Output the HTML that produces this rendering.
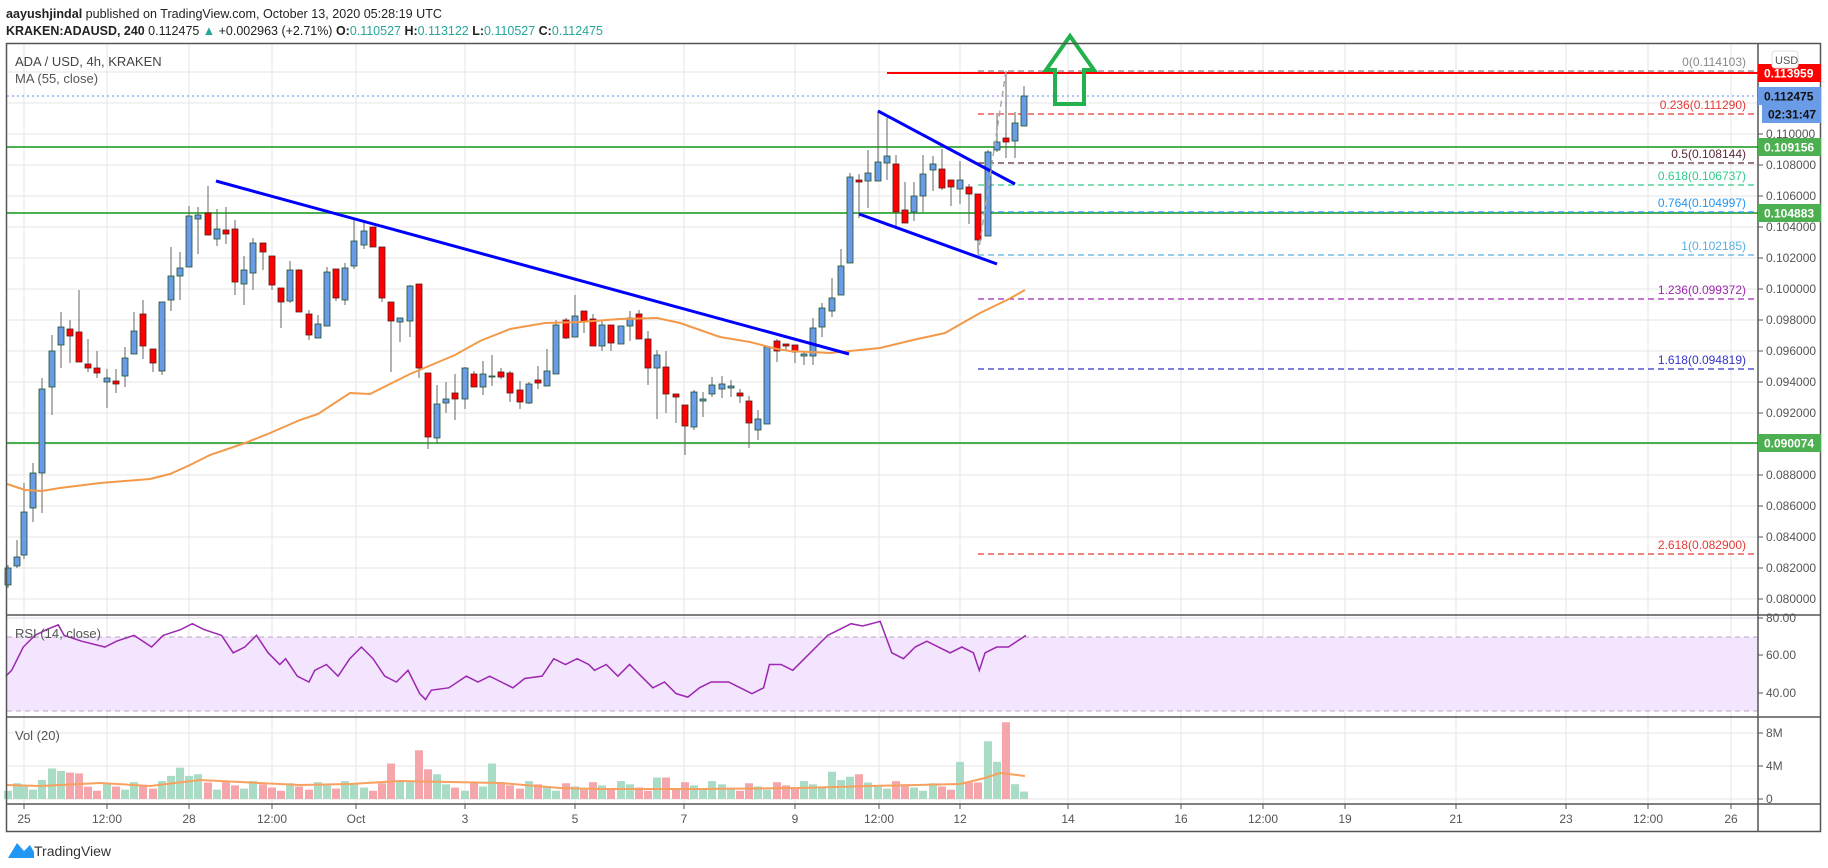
<!DOCTYPE html>
<html><head><meta charset="utf-8"><style>
html,body{margin:0;padding:0;background:#fff;}
svg{display:block;font-family:"Liberation Sans",sans-serif;}
</style></head><body>
<svg id="s" width="1828" height="868" viewBox="0 0 1828 868" xmlns="http://www.w3.org/2000/svg">
<rect width="1828" height="868" fill="#fff"/>
<g id="grid"></g>
<rect x="7" y="637" width="1751" height="74" fill="#f3e5fd"/>
<line x1="7" y1="637" x2="1758" y2="637" stroke="#b9a6c4" stroke-dasharray="5,4"/>
<line x1="7" y1="711" x2="1758" y2="711" stroke="#b9a6c4" stroke-dasharray="5,4"/>
<g id="hlines"></g>
<g id="cand"></g>
<g id="vol"></g>
<polyline fill="none" stroke="#f2994a" stroke-width="2" points="7,484 25,490 42,491 60,488 100,483 150,479 170,474 190,465 210,455 245,443 270,433 300,420 318,414 350,393 370,394 410,374 455,355 480,341 510,329 545,323 580,322 620,319 657,318 680,323 720,337 750,342 777,349 790,351 830,353 880,348 913,340 945,333 980,313 1007,300 1025,290"/>
<polyline fill="none" stroke="#f7a060" stroke-width="2" points="7,785 40,786 100,783 150,786 200,780 300,785 350,784 400,781 500,783 560,788 600,789 700,789 800,788 870,786 960,784 985,778 1000,773 1025,776"/>
<line x1="216" y1="181" x2="849" y2="354" stroke="#0000ff" stroke-width="3"/>
<line x1="878" y1="111" x2="1015" y2="184" stroke="#0000ff" stroke-width="3"/>
<line x1="859" y1="214" x2="997" y2="264" stroke="#0000ff" stroke-width="3"/>
<line x1="887" y1="73" x2="1758" y2="73" stroke="#ff0000" stroke-width="2"/>
<line x1="978" y1="255" x2="1006" y2="71" stroke="#aaa" stroke-width="1.5" stroke-dasharray="6,4"/>
<polygon points="1070,36 1094,70 1084,70 1084,104 1055,104 1055,70 1046,70" fill="none" stroke="#22b14c" stroke-width="4"/>
<g transform="scale(1.1658)"><polyline fill="none" stroke="#9c27b0" stroke-width="1.3" points="5,580 10,575 20,555 30,545 40,540 50,536 55,545 70,550 90,555 100,550 115,545 130,555 140,545 155,540 165,535 175,540 190,545 200,560 210,555 220,545 230,560 240,570 245,565 255,580 265,585 270,575 280,570 290,580 300,565 310,555 320,565 330,580 340,585 350,575 360,595 365,600 370,592 385,590 400,580 410,585 420,580 430,585 440,590 450,582 465,580 475,565 485,570 495,565 505,570 510,575 520,570 530,580 540,570 550,580 560,590 570,585 580,595 590,598 600,590 610,585 625,585 635,590 645,595 655,590 660,570 670,570 680,575 690,565 700,555 710,545 720,540 730,535 740,537 755,533 765,560 775,565 785,555 795,550 805,555 815,560 825,555 835,560 840,575 845,560 855,555 865,555 880,545"/></g>
<rect x="6.5" y="43.5" width="1814" height="788" fill="none" stroke="#555" stroke-width="1.5"/>
<line x1="1758" y1="43" x2="1758" y2="831" stroke="#555" stroke-width="1.5"/>
<line x1="7" y1="615" x2="1821" y2="615" stroke="#555" stroke-width="1.5"/>
<line x1="7" y1="717" x2="1821" y2="717" stroke="#555" stroke-width="1.5"/>
<line x1="7" y1="804" x2="1821" y2="804" stroke="#555" stroke-width="1.5"/>
<g id="axis" font-size="12" fill="#555"></g>
<text x="6" y="18" font-size="13" fill="#222" textLength="436" lengthAdjust="spacingAndGlyphs"><tspan font-weight="bold">aayushjindal</tspan> published on TradingView.com, October 13, 2020 05:28:19 UTC</text>
<text x="6" y="35" font-size="13" fill="#222" textLength="597" lengthAdjust="spacingAndGlyphs"><tspan font-weight="bold">KRAKEN:ADAUSD, 240</tspan> 0.112475 <tspan fill="#26a69a">▲</tspan> +0.002963 (+2.71%) <tspan font-weight="bold">O:</tspan><tspan fill="#26a69a">0.110527</tspan> <tspan font-weight="bold">H:</tspan><tspan fill="#26a69a">0.113122</tspan> <tspan font-weight="bold">L:</tspan><tspan fill="#26a69a">0.110527</tspan> <tspan font-weight="bold">C:</tspan><tspan fill="#26a69a">0.112475</tspan></text>
<text x="15" y="66" font-size="13" fill="#444">ADA / USD, 4h, KRAKEN</text>
<text x="15" y="83" font-size="13" fill="#555">MA (55, close)</text>
<text x="15" y="638" font-size="13" fill="#555">RSI (14, close)</text>
<text x="15" y="740" font-size="13" fill="#555">Vol (20)</text>
<path d="M8,858 L17,843 L24,851 L30,845 L34,852 L34,858 Z" fill="#2196f3"/>
<text x="34" y="856" font-size="14" fill="#333">TradingView</text>
</svg>
<script>
var NS="http://www.w3.org/2000/svg";
function el(p,t,a,txt){var e=document.createElementNS(NS,t);for(var k in a)e.setAttribute(k,a[k]);if(txt!=null)e.textContent=txt;document.getElementById(p).appendChild(e);return e;}
function Y(p){return 134+(0.110-p)*15500;}
var vx=[24,107,189,272,356,465,575,684,795,879,960,1068,1181,1263,1345,1456,1566,1648,1731];
var vl=["25","12:00","28","12:00","Oct","3","5","7","9","12:00","12","14","16","12:00","19","21","23","12:00","26"];
vx.forEach(function(x,i){
 el("grid","line",{x1:x,y1:44,x2:x,y2:804,stroke:"#e6e6e6"});
 el("axis","line",{x1:x,y1:804,x2:x,y2:809,stroke:"#555"});
 el("axis","text",{x:x,y:823,"text-anchor":"middle"},vl[i]);
});
for(var p=0.080;p<=0.1145;p+=0.002){var y=Y(p);
 el("grid","line",{x1:7,y1:y,x2:1758,y2:y,stroke:"#e6e6e6"});
 if(p<0.1105){el("axis","line",{x1:1758,y1:y,x2:1763,y2:y,stroke:"#555"});
 el("axis","text",{x:1766,y:y+4},p.toFixed(6));}}
[[655,"60.00"],[693,"40.00"],[618,"80.00"]].forEach(function(a){el("grid","line",{x1:7,y1:a[0],x2:1758,y2:a[0],stroke:"#e0d4e8"});el("axis","line",{x1:1758,y1:a[0],x2:1763,y2:a[0],stroke:"#555"});el("axis","text",{x:1766,y:a[0]+4},a[1]);});
[[733,"8M"],[766,"4M"],[799,"0"]].forEach(function(a){el("grid","line",{x1:7,y1:a[0],x2:1758,y2:a[0],stroke:"#e6e6e6"});el("axis","line",{x1:1758,y1:a[0],x2:1763,y2:a[0],stroke:"#555"});el("axis","text",{x:1766,y:a[0]+4},a[1]);});
el("hlines","line",{x1:7,y1:96,x2:1758,y2:96,stroke:"#5b8def","stroke-dasharray":"2,3"});
[147,213,443].forEach(function(y){el("hlines","line",{x1:7,y1:y,x2:1758,y2:y,stroke:"#4caf50","stroke-width":2});});
var fib=[[71,"0(0.114103)","#888"],[114,"0.236(0.111290)","#e53935"],[163,"0.5(0.108144)","#5a2a35"],[185,"0.618(0.106737)","#2ecc8a"],[212,"0.764(0.104997)","#2196f3"],[255,"1(0.102185)","#5aaee0"],[299,"1.236(0.099372)","#9c27b0"],[369,"1.618(0.094819)","#3333cc"],[554,"2.618(0.082900)","#e53935"]];
fib.forEach(function(f){el("hlines","line",{x1:978,y1:f[0],x2:1758,y2:f[0],stroke:f[2],"stroke-dasharray":"6,4","stroke-width":1.3});
 el("hlines","text",{x:1746,y:f[0]-5,"text-anchor":"end","font-size":"12",fill:f[2]},f[1]);});
var C=[[8,568,585,565,588,"b"],[17,557,566,540,568,"b"],[24,512,555,483,559,"b"],[33,473,508,463,522,"b"],[42,389,473,378,513,"b"],[52,351,387,335,415,"b"],[61,327,345,312,368,"b"],[70,329,336,320,363,"r"],[79,332,362,290,362,"r"],[88,364,368,339,372,"r"],[97,368,373,351,378,"r"],[107,378,382,369,408,"b"],[116,381,384,369,393,"r"],[125,358,376,347,387,"b"],[134,331,354,312,354,"b"],[143,314,346,300,359,"r"],[153,349,363,349,372,"r"],[162,302,371,302,375,"b"],[171,276,300,247,311,"b"],[180,268,276,252,300,"b"],[189,216,267,206,267,"b"],[198,215,219,207,254,"b"],[208,213,235,186,235,"r"],[217,229,239,209,246,"b"],[226,230,234,207,244,"r"],[235,229,282,220,295,"r"],[244,270,284,256,305,"b"],[253,243,273,238,290,"b"],[263,243,252,243,270,"r"],[272,256,285,256,290,"r"],[281,288,302,288,328,"r"],[290,270,301,261,303,"b"],[299,270,312,269,312,"r"],[309,314,335,310,340,"r"],[318,324,338,315,338,"b"],[327,272,326,267,326,"b"],[336,269,298,269,301,"r"],[345,268,300,263,305,"b"],[354,241,266,220,269,"b"],[364,231,245,220,249,"b"],[373,227,247,227,247,"r"],[382,247,298,247,302,"r"],[391,302,321,302,372,"r"],[400,318,322,318,342,"b"],[410,286,321,285,337,"b"],[419,284,368,284,378,"r"],[428,373,437,373,449,"r"],[437,404,438,385,444,"b"],[446,399,403,382,413,"b"],[455,393,399,374,420,"r"],[465,368,399,367,409,"b"],[474,374,387,371,387,"r"],[483,374,387,361,395,"b"],[492,376,377,355,386,"b"],[501,372,377,368,379,"r"],[510,373,393,371,402,"r"],[520,390,402,381,409,"r"],[529,384,403,382,404,"b"],[538,380,383,366,389,"r"],[547,371,386,349,386,"b"],[556,325,374,320,374,"b"],[566,320,338,318,339,"r"],[575,316,337,295,337,"b"],[584,311,321,311,333,"r"],[593,319,346,314,346,"r"],[602,325,346,320,351,"b"],[611,325,343,325,351,"r"],[621,326,344,326,344,"b"],[630,318,326,311,341,"b"],[639,314,339,310,339,"r"],[648,339,368,331,385,"r"],[657,355,368,350,419,"b"],[666,367,394,351,413,"r"],[676,394,397,394,423,"r"],[685,405,426,405,455,"r"],[694,392,427,390,430,"b"],[703,399,401,392,417,"b"],[712,385,394,377,397,"b"],[722,384,389,376,398,"b"],[731,386,388,380,397,"b"],[740,393,396,389,403,"r"],[749,401,423,396,448,"r"],[758,419,430,410,440,"b"],[767,347,424,347,424,"b"],[777,341,351,339,362,"r"],[786,344,346,344,350,"r"],[795,345,352,345,363,"r"],[804,354,356,352,365,"b"],[813,328,356,318,365,"b"],[822,308,327,303,337,"b"],[832,298,311,278,317,"b"],[841,266,295,249,295,"b"],[850,177,263,173,263,"b"],[859,180,182,174,218,"r"],[868,173,181,150,208,"b"],[878,162,181,111,181,"b"],[887,156,163,118,180,"b"],[896,164,212,155,227,"r"],[905,210,223,182,223,"r"],[914,196,212,182,221,"b"],[923,174,196,155,212,"b"],[933,164,170,156,191,"b"],[942,169,188,149,190,"r"],[951,180,187,180,206,"r"],[960,180,189,161,204,"b"],[969,187,194,184,224,"r"],[978,194,240,194,255,"r"],[988,152,236,150,236,"b"],[997,142,150,113,152,"b"],[1006,138,142,73,158,"r"],[1015,123,141,112,158,"b"],[1024,96,126,86,126,"b"]];
var VO={42:2.3,52:3.7,61:3.4,70:3.2,79:3.1,88:1.5,171:2.8,180:3.8,189:2.8,198:3.0,208:2.0,389:4.3,398:2.2,416:5.9,425:3.6,434:3.0,491:4.3,662:2.6,830:3.3,842:2.3,851:2.7,860:3.0,870:2.0,958:4.5,969:2.0,978:2.0,988:7.0,997:4.5,1006:9.3,1015:1.8,1024:0.9};
C.forEach(function(c,i){var x=c[0],up=c[5]=="b";
 el("cand","line",{x1:x,y1:c[3],x2:x,y2:c[4],stroke:"#666"});
 el("cand","rect",{x:x-3,y:c[1],width:6,height:Math.max(1,c[2]-c[1]),fill:up?"#6a9be6":"#ff0000",stroke:up?"#1f4f2f":"#5a1a1a","stroke-width":0.8});
 var v=1+((i*37)%10)/10*1.3; for(var k in VO){if(Math.abs(k-x)<=5)v=VO[k];}
 var h=v*8.25; el("vol","rect",{x:x-4,y:799-h,width:8,height:h,fill:up?"#a8dcc5":"#f4a6aa"});
});
function lab(y,txt,bg,fg,x){el("axis","rect",{x:x||1758,y:y-9,width:1821-(x||1758),height:18,fill:bg});el("axis","text",{x:(x||1758)+6,y:y+4.5,fill:fg,"font-weight":"bold"},txt);}
lab(73,"0.113959","#ff0000","#fff");lab(96,"0.112475","#6a9be6","#111");lab(114,"02:31:47","#6a9be6","#111",1762);
lab(147,"0.109156","#4caf50","#fff");lab(213,"0.104883","#4caf50","#fff");lab(443,"0.090074","#4caf50","#fff");
el("axis","rect",{x:1772,y:51,width:26,height:17,rx:3,fill:"#fff",stroke:"#ddd"});
el("axis","text",{x:1775,y:64,"font-size":"11"},"USD");
</script>
</body></html>
